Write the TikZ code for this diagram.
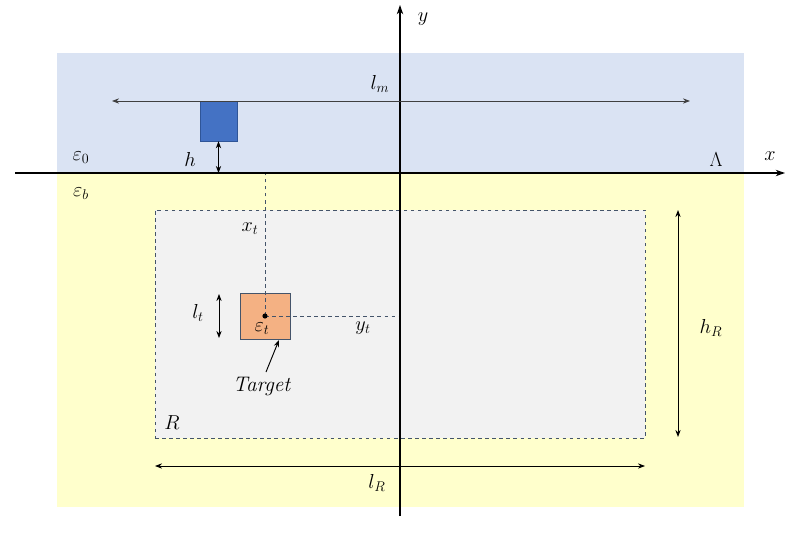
\documentclass[tikz,border=0pt]{standalone}
\usepackage{amsmath,amsfonts,amssymb}
\usetikzlibrary{arrows.meta}

\definecolor{airblue}{HTML}{DAE3F3}
\definecolor{soilyellow}{HTML}{FFFFCC}
\definecolor{antblue}{HTML}{4472C4}
\definecolor{antedge}{HTML}{2F5597}
\definecolor{regiongray}{HTML}{F2F2F2}
\definecolor{dashgray}{HTML}{44546A}
\definecolor{targetorange}{HTML}{F4B183}

\tikzset{
	axis/.style={line width=1.1pt,-{Stealth[length=8pt,width=5.5pt]}},
	dimline/.style={line width=0.8pt,{Stealth[length=6pt,width=4.5pt]}-{Stealth[length=6pt,width=4.5pt]}},
	antenna/.style={draw=antedge,fill=antblue,minimum width=1.11cm,minimum height=1.2cm,inner sep=0pt},
	target/.style={draw=dashgray,fill=targetorange,minimum width=1.5cm,minimum height=1.38cm,inner sep=0pt},
	region/.style={draw=dashgray,dashed,fill=regiongray,minimum width=14.7cm,minimum height=6.84cm,inner sep=0pt},
	guide/.style={draw=dashgray,dashed,line width=0.6pt}
}

\begin{document}
\begin{tikzpicture}[>=Stealth,x=0.03cm,y=-0.03cm,font=\fontsize{18}{21}\selectfont]
		\useasboundingbox (0,0) rectangle (800,534);
		
		\fill[airblue] (57,53) rectangle (744,173);
		\fill[soilyellow] (57,173) rectangle (744,507);
		
		\node[region] (R) at (400,324) {};
		\node[target] (tgt) at (265,316) {};
		\node[antenna] (ant) at (218.5,121) {};
		
		\coordinate (xl) at (15,173);
		\coordinate (xr) at (785,173);
		\coordinate (yb) at (400,516);
		\coordinate (yt) at (400,5);
		\coordinate (tc) at (265,316);
		
		\draw[guide] (tc) -- (tc |- xr);
		\draw[guide] (tc) -- (tc -| yt);
		\fill (tc) circle (2.6);
		
		\draw[axis] (xl) -- (xr);
		\draw[axis] (yb) -- (yt);
		
		\coordinate (lm1) at (112,101);
		\coordinate (lm2) at (690,101);
		\draw[dimline,draw=black!75] (lm1) -- (lm2);
		\draw[dimline] (ant.south) -- (ant.south |- xr);
		\coordinate (lt1) at (219,294);
		\coordinate (lt2) at (219,338);
		\draw[dimline] (lt1) -- (lt2);
		\coordinate (hr1) at (678,210);
		\coordinate (hr2) at (678,437);
		\draw[dimline] (hr1) -- (hr2);
		\coordinate (lr1) at (155,466);
		\coordinate (lr2) at (645,466);
		\draw[dimline] (lr1) -- (lr2);
		
		\coordinate (tgtlab) at (262,387);
		\draw[line width=0.8pt,-{Stealth[length=6pt,width=4.5pt]}] (266,372) -- (279,340);
		
		\node at (380,84) {$l_m$};
		\node at (190,159) {$h$};
		\node at (81,158) {$\varepsilon_0$};
		\node at (81,194) {$\varepsilon_b$};
		\node at (716,160) {$\Lambda$};
		\node at (770,156) {$x$};
		\node at (423,19) {$y$};
		\node at (250,229) {$x_t$};
		\node at (363,328) {$y_t$};
		\node at (198,313) {$l_t$};
		\node at (262,329) {$\varepsilon_t$};
		\node at (tgtlab) {\textit{Target}};
		\node at (172,423) {$R$};
		\node at (711,328) {$h_R$};
		\node at (377,483) {$l_R$};
	\end{tikzpicture}
\end{document}
